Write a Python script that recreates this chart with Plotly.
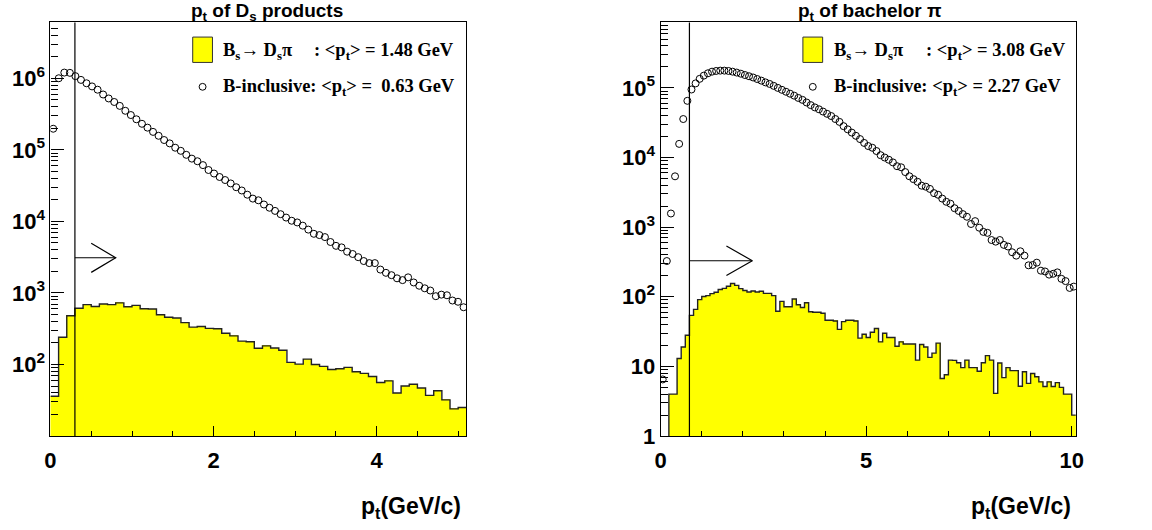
import numpy as np
import plotly.graph_objects as go

# ---------------- data: left panel (pt of Ds products) ----------------
ds_range = (0.0, 5.1)
ds_bs_counts = [36, 240, 480, 611, 686, 645, 700, 686, 725, 640,
                670, 600, 595, 496, 457, 447, 385, 333, 340, 320,
                316, 273, 251, 212, 208, 169, 182, 170, 158, 107,
                101, 119, 100, 94, 85, 87, 91, 79, 75, 68,
                56, 59, 40, 50, 53, 47, 37, 43, 32, 24, 25]
ds_incl_counts = [197000, 1000000, 1200000, 1190000, 1070000, 948000, 851000, 769000, 692000, 593000,
                  522000, 466000, 411000, 351000, 306000, 267000, 231000, 204000, 178000, 157000,
                  137000, 123000, 107000, 96800, 85100, 75300, 69200, 61100, 52200, 46600,
                  41700, 37800, 33900, 30000, 27000, 23600, 20800, 19700, 17200, 15500,
                  14000, 12600, 11300, 10200, 9660, 8710, 7670, 6700, 6430, 6030,
                  5150, 4550, 4330, 3770, 3500, 3160, 2790, 2610, 2610, 2120,
                  1910, 1770, 1600, 1510, 1650, 1400, 1260, 1160, 1080, 900,
                  946, 927, 783, 752, 631]
ds_cut = 0.3
ds_arrow_tip = 0.8
ds_arrow_back = 0.5
ds_arrow_y = 3100
ds_title = "p<sub>t</sub> of D<sub>s</sub> products"
ds_mean_bs = "1.48"
ds_mean_incl = "0.63"

# ---------------- data: right panel (pt of bachelor pi) ----------------
pi_range = (0.0, 10.1)
pi_bs_counts = [0, 0, 4, 4, 13, 19, 28, 54, 66, 91,
                101, 104, 111, 116, 127, 132, 142, 155, 146, 131,
                123, 117, 121, 117, 120, 112, 112, 104, 62, 86,
                72, 72, 93, 77, 70, 82, 61, 60, 60, 58,
                46, 46, 45, 34, 44, 46, 46, 45, 25.5, 29,
                26, 31, 35, 22.5, 30, 26, 26, 19.5, 22.5, 21,
                21, 21, 12.3, 20.6, 19, 13.5, 15.5, 21.6, 6.7, 7.6,
                12.3, 12.2, 11.3, 9.6, 12.3, 9.6, 9.6, 8.5, 11.3, 14.3,
                12.3, 4.1, 11.2, 6.9, 9.6, 8.7, 8.7, 5.2, 8.4, 5.7,
                7.9, 7.1, 6.0, 5.15, 6.0, 5.15, 5.85, 5.0, 4.0, 4.0, 2.0]
pi_incl_counts = [6.5, 326, 1570, 5370, 15700, 35700, 65200, 94800, 116000, 135000,
                  150000, 162000, 171000, 175000, 177000, 177000, 175000, 171000, 166000, 160000,
                  153000, 147000, 141000, 134000, 127000, 120000, 114000, 107000, 100000, 93800,
                  88000, 82500, 77300, 71700, 67300, 61700, 56600, 52500, 49300, 45700,
                  42400, 39400, 35700, 32500, 28200, 25400, 22800, 20500, 18400, 16200,
                  14600, 13800, 12400, 10800, 10000, 9290, 8510, 7500, 7240, 6180,
                  5380, 4890, 4480, 3940, 3810, 3540, 3080, 2920, 2570, 2310,
                  2170, 1870, 1710, 1540, 1410, 1110, 1220, 982, 855, 828,
                  653, 619, 653, 556, 527, 436, 390, 450, 390, 283,
                  286, 309, 237, 231, 208, 214, 224, 181, 168, 134, 140]
pi_cut = 0.7
pi_arrow_tip = 2.23
pi_arrow_back = 1.6
pi_arrow_y = 329
pi_title = "p<sub>t</sub> of bachelor π"
pi_mean_bs = "3.08"
pi_mean_incl = "2.27"

# ---------------- geometry helpers ----------------
W, H = 1152, 530
def px(x):
    return x / W
def py(y):
    return 1 - y / H

FRAME_TOP, FRAME_BOT = 23, 447
L_X0, L_X1 = 45, 466
R_X0, R_X1 = 662.7, 1083

YELLOW = "#ffff00"
SANS = "Liberation Sans"
SERIF = "Liberation Serif"

fig = go.Figure()


def add_panel(xa, ya, rng, bs_counts, incl_counts, cut, tip, back, ay, head):
    bs = np.array(bs_counts, dtype=float)
    edges = np.linspace(rng[0], rng[1], len(bs) + 1)
    centers = 0.5 * (edges[:-1] + edges[1:])
    width = edges[1] - edges[0]
    fig.add_trace(go.Bar(x=centers, y=np.where(bs > 0, bs, None), width=width,
                         marker=dict(color=YELLOW, line=dict(width=0)),
                         xaxis=xa, yaxis=ya, hoverinfo="skip", showlegend=False))
    outline = np.where(bs > 0, bs, 1e-3)
    fig.add_trace(go.Scatter(x=edges, y=np.append(outline, outline[-1]), mode="lines",
                             line=dict(color="#222222", width=1.4, shape="hv"),
                             xaxis=xa, yaxis=ya, hoverinfo="skip", showlegend=False))
    inc = np.array(incl_counts, dtype=float)
    e2 = np.linspace(rng[0], rng[1], len(inc) + 1)
    c2 = 0.5 * (e2[:-1] + e2[1:])
    fig.add_trace(go.Scatter(x=c2, y=inc, mode="markers",
                             marker=dict(symbol="circle-open", size=7, color="black",
                                         line=dict(width=1, color="black")),
                             xaxis=xa, yaxis=ya, hoverinfo="skip", showlegend=False))
    # arrow marking the cut
    fig.add_trace(go.Scatter(x=[cut, tip, None, back, tip, back],
                             y=[ay, ay, None, ay * head, ay, ay / head],
                             mode="lines", line=dict(color="black", width=1.2),
                             xaxis=xa, yaxis=ya, hoverinfo="skip", showlegend=False))
    fig.add_shape(type="line", xref=xa, yref=ya + " domain", x0=cut, x1=cut, y0=0, y1=1,
                  line=dict(color="black", width=1.2), layer="above")


add_panel("x", "y", ds_range, ds_bs_counts, ds_incl_counts, ds_cut, ds_arrow_tip,
          ds_arrow_back, ds_arrow_y, 1.6)
add_panel("x2", "y2", pi_range, pi_bs_counts, pi_incl_counts, pi_cut, pi_arrow_tip,
          pi_arrow_back, pi_arrow_y, 1.63)

tickfont = dict(family=SANS, size=22, color="black", weight="bold")


def minor_logs(lo, hi):
    vals = []
    for n in range(int(np.floor(lo)) - 1, int(np.ceil(hi)) + 1):
        for k in range(2, 10):
            v = k * 10.0 ** n
            if 10 ** lo < v < 10 ** hi:
                vals.append(v)
    return vals


axis_common = dict(showline=True, mirror=True, linecolor="black", linewidth=1.2,
                   showgrid=False, zeroline=False, ticks="inside", tickcolor="black",
                   tickfont=tickfont)

yd = [py(FRAME_BOT), py(FRAME_TOP)]
fig.update_layout(
    width=W, height=H, margin=dict(l=0, r=0, t=0, b=0),
    paper_bgcolor="white", plot_bgcolor="white", bargap=0, barmode="overlay",
    showlegend=False,
    xaxis=dict(domain=[px(L_X0), px(L_X1)], range=list(ds_range), anchor="y",
               tickvals=[0, 2, 4], ticklen=10, ticklabelstandoff=4,
               minor=dict(dtick=0.5, tick0=0, ticks="inside", ticklen=5, tickcolor="black"),
               **axis_common),
    yaxis=dict(domain=yd, type="log", range=[1.0, 6.78], anchor="x",
               tickvals=[1e2, 1e3, 1e4, 1e5, 1e6],
               ticktext=["10<sup>2</sup>", "10<sup>3</sup>", "10<sup>4</sup>",
                         "10<sup>5</sup>", "10<sup>6</sup>"],
               ticklen=13,
               minor=dict(tickvals=minor_logs(1.0, 6.78), ticks="inside", ticklen=7,
                          tickcolor="black"),
               **axis_common),
    xaxis2=dict(domain=[px(R_X0), px(R_X1)], range=list(pi_range), anchor="y2",
                tickvals=[0, 5, 10], ticklen=10, ticklabelstandoff=4,
                minor=dict(dtick=1, tick0=0, ticks="inside", ticklen=5, tickcolor="black"),
                **axis_common),
    yaxis2=dict(domain=yd, type="log", range=[0.0, 5.94], anchor="x2",
                tickvals=[1, 10, 1e2, 1e3, 1e4, 1e5],
                ticktext=["1", "10", "10<sup>2</sup>", "10<sup>3</sup>", "10<sup>4</sup>",
                          "10<sup>5</sup>"],
                ticklen=13,
                minor=dict(tickvals=minor_logs(0.0, 5.94), ticks="inside", ticklen=7,
                           tickcolor="black"),
                **axis_common),
)

title_font = dict(family=SANS, size=19, color="black", weight="bold")
leg_font = dict(family=SERIF, size=18.5, color="black", weight="bold")
xt_font = dict(family=SANS, size=23, color="black", weight="bold")
NB = "\u00a0"

annotations = []
for (cx, title, x_right) in [(264, ds_title, L_X1 - 3), (875, pi_title, R_X1 - 3)]:
    annotations.append(dict(text=title, x=px(cx), y=py(12), xref="paper", yref="paper",
                            xanchor="center", yanchor="middle", showarrow=False,
                            font=title_font))
    annotations.append(dict(text="p<sub>t</sub>(GeV/c)", x=px(x_right), y=py(520),
                            xref="paper", yref="paper", xanchor="right", yanchor="middle",
                            showarrow=False, font=xt_font))

for (box_x, text_x, colon_x, m_bs, m_inc, gap) in [
        (189, 218, 310, ds_mean_bs, ds_mean_incl, NB + NB),
        (806.7, 836, 929.3, pi_mean_bs, pi_mean_incl, NB)]:
    annotations.append(dict(text="B<sub>s</sub>→ D<sub>s</sub>π", x=px(text_x), y=py(53),
                            xref="paper", yref="paper", xanchor="left", yanchor="middle",
                            showarrow=False, font=leg_font))
    annotations.append(dict(text=": &lt;p<sub>t</sub>&gt; = " + m_bs + " GeV",
                            x=px(colon_x), y=py(53), xref="paper", yref="paper",
                            xanchor="left", yanchor="middle", showarrow=False, font=leg_font))
    annotations.append(dict(text="B-inclusive: &lt;p<sub>t</sub>&gt; =" + gap + m_inc + " GeV",
                            x=px(text_x), y=py(90), xref="paper", yref="paper",
                            xanchor="left", yanchor="middle", showarrow=False, font=leg_font))
    fig.add_shape(type="rect", xref="paper", yref="paper",
                  x0=px(box_x), x1=px(box_x + 20), y0=py(64), y1=py(38),
                  fillcolor=YELLOW, line=dict(color="#333333", width=1))
    cxp = box_x + 10
    fig.add_shape(type="circle", xref="paper", yref="paper",
                  x0=px(cxp - 3.5), x1=px(cxp + 3.5), y0=py(89 + 3.5), y1=py(89 - 3.5),
                  line=dict(color="black", width=1), fillcolor="rgba(0,0,0,0)")

fig.update_layout(annotations=annotations)
fig.write_html("out.html", config={"displayModeBar": False},
               post_script="document.body.style.margin='0px';")
